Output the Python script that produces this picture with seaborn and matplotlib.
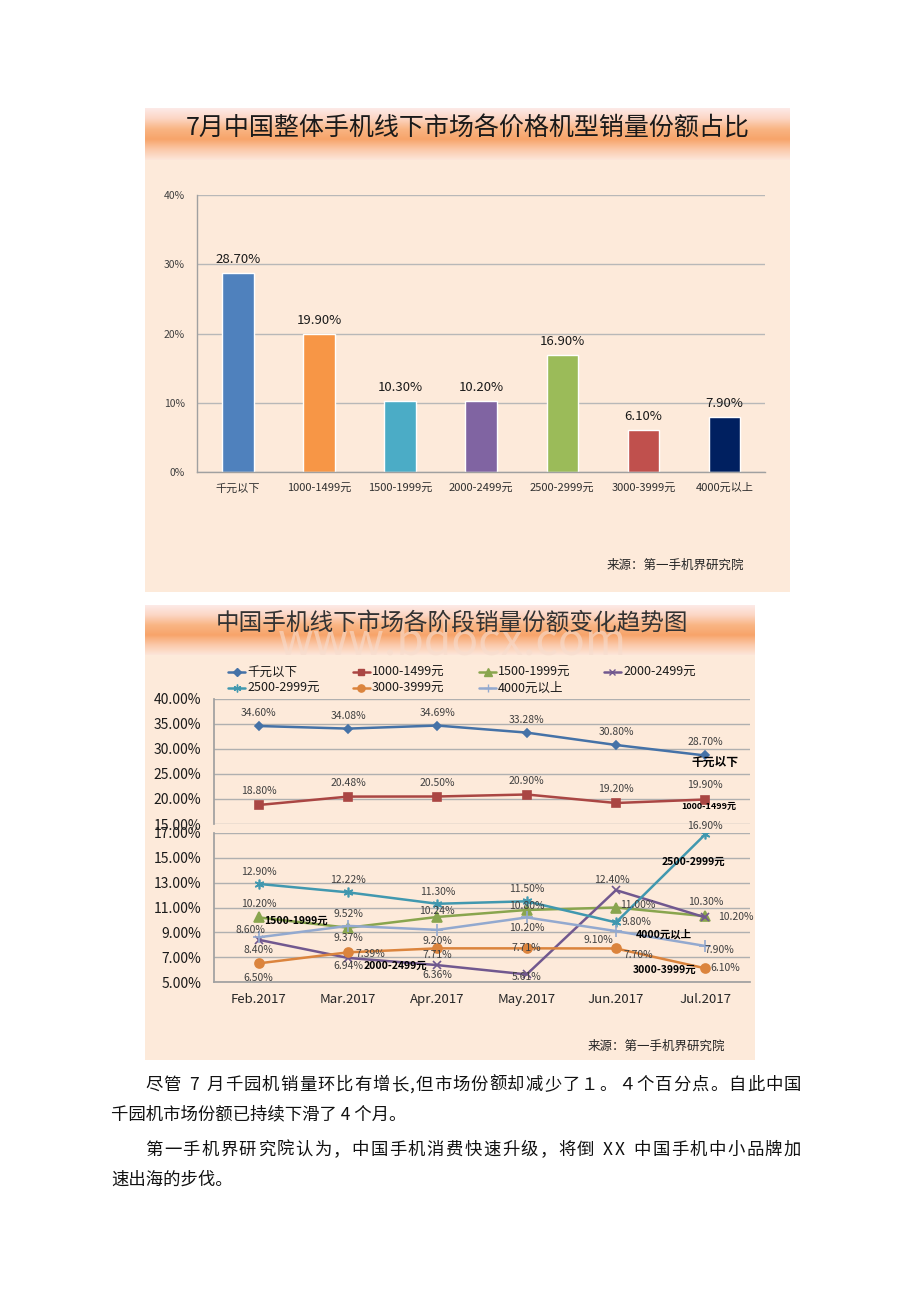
import numpy as np
import pandas as pd
import matplotlib
matplotlib.use("Agg")
import matplotlib.pyplot as plt
from matplotlib.colors import LinearSegmentedColormap
from matplotlib.lines import Line2D
import seaborn as sns

# ---- 图1：7月各价格段销量份额 ----
price_bands = ['千元以下', '1000-1499元', '1500-1999元', '2000-2499元',
               '2500-2999元', '3000-3999元', '4000元以上']
jul_share = [28.7, 19.9, 10.3, 10.2, 16.9, 6.1, 7.9]
bar_colors = ['#4F81BD', '#F79646', '#4BACC6', '#8064A2', '#9BBB59', '#C0504D', '#002060']

# ---- 图2：各阶段份额变化 ----
months = ['Feb.2017', 'Mar.2017', 'Apr.2017', 'May.2017', 'Jun.2017', 'Jul.2017']
share_0_999 = [34.60, 34.08, 34.69, 33.28, 30.80, 28.70]
share_1000_1499 = [18.80, 20.48, 20.50, 20.90, 19.20, 19.90]
share_1500_1999 = [10.20, 9.37, 10.24, 10.80, 11.00, 10.30]
share_2000_2499 = [8.40, 6.94, 6.36, 5.61, 12.40, 10.20]
share_2500_2999 = [12.90, 12.22, 11.30, 11.50, 9.80, 16.90]
share_3000_3999 = [6.50, 7.39, 7.71, 7.71, 7.70, 6.10]
share_4000_up = [8.60, 9.52, 9.20, 10.20, 9.10, 7.90]

series = [share_0_999, share_1000_1499, share_1500_1999, share_2000_2499,
          share_2500_2999, share_3000_3999, share_4000_up]
line_colors = ['#4572A7', '#AA4643', '#89A54E', '#71588F', '#4198AF', '#DB843D', '#93A9CF']
markers = ['D', 's', '^', 'x', (6, 2, 0), 'o', '+']
msizes = [4.5, 6, 6.5, 6, 7, 6.5, 8]

# 数据标签偏移（像素）
lbl_off = [
    [(0, 13)] * 6,
    [(0, 14)] * 6,
    [(0, 13), (0, -10), (0, 6), (0, 4), (22, 3), (0, 14)],
    [(0, -10), (0, -8), (0, -10), (0, -3), (-4, 10), (30, 0)],
    [(0, 12), (0, 12), (0, 12), (0, 12), (20, 0), (0, 8)],
    [(0, -15), (22, -2), (0, -7), (0, 0), (22, -7), (20, 0)],
    [(-8, 7), (0, 12), (0, -11), (0, -11), (-18, -9), (14, -4)],
]
# 系列名称标签: (系列, 点, dx, dy, 字号)
name_tags = [(0, 5, 10, -7, 8.5), (1, 5, 3, -7, 6.5), (4, 5, -12, -28, 7.5),
             (2, 0, 37, -3, 7.5), (3, 1, 47, -8, 7.5), (6, 4, 48, -3, 7.5),
             (5, 5, -41, -2, 7.5)]

sns.set_theme(style='white')
plt.rcParams['font.family'] = ['Noto Sans CJK SC', 'DejaVu Sans']
plt.rcParams['axes.unicode_minus'] = False

W, H = 920, 1302
fig = plt.figure(figsize=(W / 100, H / 100), dpi=100)
fig.patch.set_facecolor('white')


def box(l, t, r, b):
    return [l / W, 1 - b / H, (r - l) / W, (b - t) / H]


def px(x, y):
    return x / W, 1 - y / H


bg = '#FDEADA'
banner_cmap = LinearSegmentedColormap.from_list(
    'banner', ['#FDEAE8', '#FCD6C4', '#F9B584', '#F7A46A', '#FBC9AA', '#FDE6DA'])
grad = np.linspace(0, 1, 256).reshape(-1, 1)

for l, t, r, b, tb in [(145, 108, 790, 592, 160), (145, 605, 755, 1060, 655)]:
    pan = fig.add_axes(box(l, t, r, b))
    pan.set_facecolor(bg)
    pan.set_xticks([]); pan.set_yticks([])
    for s in pan.spines.values():
        s.set_visible(False)
    ban = fig.add_axes(box(l, t, r, tb))
    ban.imshow(grad, aspect='auto', cmap=banner_cmap, extent=[0, 1, 0, 1])
    ban.axis('off')

fig.text(*px(468, 129), '7月中国整体手机线下市场各价格机型销量份额占比',
         ha='center', va='center', fontsize=18, color='#1a1a1a')
fig.text(*px(452, 641), 'www.bdocx.com', ha='center', va='center',
         fontsize=32, color='#F6DCCE', alpha=0.6)
fig.text(*px(452, 623), '中国手机线下市场各阶段销量份额变化趋势图',
         ha='center', va='center', fontsize=17, color='#333333')

# ---- 柱状图 ----
ax1 = fig.add_axes(box(197.5, 195, 765, 472))
ax1.patch.set_alpha(0)
df1 = pd.DataFrame({'band': price_bands, 'share': jul_share})
sns.barplot(data=df1, x='band', y='share', hue='band', palette=bar_colors,
            saturation=1, width=0.39, legend=False, ax=ax1)
ax1.set_ylim(0, 40)
ax1.set_xlim(-0.5, 6.5)
ax1.set_yticks([0, 10, 20, 30, 40])
ax1.set_yticklabels([f'{v}%' for v in [0, 10, 20, 30, 40]])
ax1.yaxis.grid(True, color='#B8B8B8', lw=1)
ax1.set_axisbelow(True)
ax1.set_xlabel(''); ax1.set_ylabel('')
ax1.tick_params(axis='y', labelsize=7.5, colors='#404040', length=0, pad=9)
ax1.tick_params(axis='x', labelsize=8, colors='#303030', length=0, pad=8)
ax1.set_xticks(np.arange(-0.5, 7, 1), minor=True)
ax1.tick_params(axis='x', which='minor', length=4, color='#A0A0A0', direction='out')
for s in ['top', 'right']:
    ax1.spines[s].set_visible(False)
for s in ['left', 'bottom']:
    ax1.spines[s].set_color('#A0A0A0')
    ax1.spines[s].set_linewidth(1)
for p, v in zip(ax1.patches, jul_share):
    ax1.annotate(f'{v:.2f}%', (p.get_x() + p.get_width() / 2, v), xytext=(0, 5),
                 textcoords='offset points', ha='center', va='bottom',
                 fontsize=9.5, color='#1a1a1a')
fig.text(*px(675, 565), '来源：第一手机界研究院', ha='center', va='center',
         fontsize=9, color='#262626')

# ---- 折线图（上下两段） ----
ax_top = fig.add_axes(box(214, 699, 750, 824))
ax_bot = fig.add_axes(box(214, 833, 750, 982))
for ax in (ax_top, ax_bot):
    ax.patch.set_alpha(0)

for i, vals in enumerate(series):
    ax = ax_top if i < 2 else ax_bot
    sns.lineplot(x=months, y=vals, ax=ax, color=line_colors[i], marker=markers[i],
                 markersize=msizes[i], markeredgecolor=line_colors[i],
                 markeredgewidth=1.2, linewidth=1.8, sort=False, zorder=3)
    for j, v in enumerate(vals):
        dx, dy = lbl_off[i][j]
        ax.annotate(f'{v:.2f}%', (j, v), xytext=(dx, dy), textcoords='offset pixels',
                    ha='center', va='center', fontsize=7.5, color='#404040', zorder=5)

for i, j, dx, dy, fs in name_tags:
    ax = ax_top if i < 2 else ax_bot
    ax.annotate(price_bands[i], (j, series[i][j]), xytext=(dx, dy),
                textcoords='offset pixels', ha='center', va='center', fontsize=fs,
                fontweight='bold', color='#000000', zorder=6)

ax_top.set_ylim(15, 40)
ax_top.set_yticks(np.arange(15, 41, 5))
ax_bot.set_ylim(5, 17)
ax_bot.set_yticks(np.arange(5, 18, 2))
for ax in (ax_top, ax_bot):
    ax.set_xlim(-0.5, 5.5)
    ax.set_yticklabels([f'{v:.2f}%' for v in ax.get_yticks()])
    ax.yaxis.grid(True, color='#B0B0B0', lw=1)
    ax.set_axisbelow(True)
    ax.set_xlabel(''); ax.set_ylabel('')
    ax.tick_params(axis='y', labelsize=10, colors='#1a1a1a', length=0, pad=9)
    for s in ['top', 'right']:
        ax.spines[s].set_visible(False)
    ax.spines['left'].set_color('#A0A0A0')
ax_top.spines['bottom'].set_visible(False)
ax_top.set_xticks([])
ax_bot.spines['bottom'].set_color('#A0A0A0')
ax_bot.tick_params(axis='x', labelsize=9.5, colors='#262626', length=0, pad=8)
ax_bot.set_xticks(np.arange(-0.5, 6, 1), minor=True)
ax_bot.tick_params(axis='x', which='minor', length=4, color='#A0A0A0', direction='out')

# 图例（手动排布）
leg_pos = [(228, 672), (353, 672), (479, 672), (604, 672),
           (228, 688), (353, 688), (479, 688)]
for i, (lx, ly) in enumerate(leg_pos):
    x0, y0 = px(lx, ly)
    x1, _ = px(lx + 17, ly)
    fig.add_artist(Line2D([x0, (x0 + x1) / 2, x1], [y0, y0, y0], transform=fig.transFigure,
                          color=line_colors[i], lw=1.8, marker=markers[i],
                          markersize=msizes[i] * 0.8, markevery=[1],
                          markeredgecolor=line_colors[i]))
    fig.text(*px(lx + 19, ly), price_bands[i], ha='left', va='center',
             fontsize=9, color='#1a1a1a')

fig.text(*px(656, 1046), '来源：第一手机界研究院', ha='center', va='center',
         fontsize=9, color='#262626')

# ---- 正文（首行缩进，满行两端对齐） ----
body = [
    (145, 1085, '尽管 7 月千园机销量环比有增长,但市场份额却减少了１。４个百分点。自此中国', True),
    (111, 1114, '千园机市场份额已持续下滑了 4 个月。', False),
    (145, 1150, '第一手机界研究院认为，中国手机消费快速升级，将倒 XX 中国手机中小品牌加', True),
    (111, 1180, '速出海的步伐。', False),
]
renderer = fig.canvas.get_renderer()
right_edge = 801
for x, y, t, justify in body:
    if not justify:
        fig.text(*px(x, y), t, ha='left', va='center', fontsize=12.5, color='#111111')
        continue
    chars = [fig.text(0, 0, c, ha='left', va='center', fontsize=12.5, color='#111111')
             for c in t]
    widths = [c.get_window_extent(renderer).width if c.get_text().strip() else 6.0
              for c in chars]
    gap = (right_edge - x - sum(widths)) / (len(chars) - 1)
    cx = x
    for c, w in zip(chars, widths):
        c.set_position(px(cx, y))
        cx += w + gap

fig.savefig('out.png', dpi=100)
